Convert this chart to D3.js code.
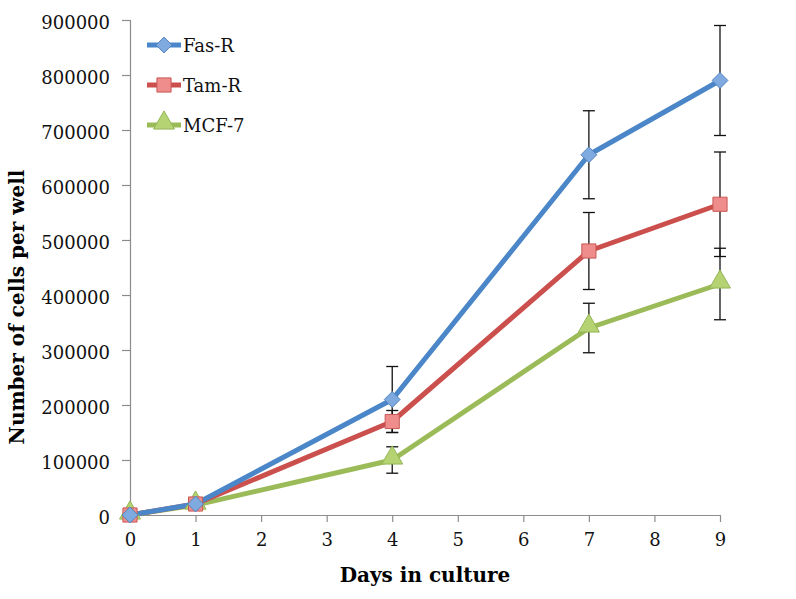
<!DOCTYPE html>
<html><head><meta charset="utf-8">
<script src="https://cdn.jsdelivr.net/npm/d3@7"></script>
<style>body{margin:0;background:#fff}</style>
</head><body><svg id="c" width="796" height="599"></svg>
<script>
const days = [0, 1, 4, 7, 9];
const seriesNames = ["Fas-R", "Tam-R", "MCF-7"];
const fasR = [0, 20000, 210000, 655000, 790000];
const tamR = [0, 20000, 170000, 480000, 565000];
const mcf7 = [0, 18000, 100000, 340000, 420000];
const fasRErr = [0, 0, 60000, 80000, 100000];
const tamRErr = [0, 0, 20000, 70000, 95000];
const mcf7Err = [0, 0, 24000, 45000, 65000];
const xTicks = [0,1,2,3,4,5,6,7,8,9];
const yTicks = [0,100000,200000,300000,400000,500000,600000,700000,800000,900000];

const colors = ["#4A86C8", "#CB504D", "#9BBB59"];
const fills = ["#7FAADF", "#EE8D8B", "#B6D374"];
const strokes = ["#5585C0", "#C85855", "#93B556"];
const shapes = [d3.symbolDiamond2, d3.symbolSquare, d3.symbolTriangle];
const sizes = [160, 200, 190];

const svg = d3.select("#c");
const m = {l:130, r:720, t:20, b:515};
const x = d3.scaleLinear().domain([0,9]).range([m.l, m.r]);
const y = d3.scaleLinear().domain([0,900000]).range([m.b, m.t]);
const font = "'DejaVu Serif', serif";

const ya = svg.append("g").attr("transform", `translate(${m.l},0)`)
  .call(d3.axisLeft(y).tickValues(yTicks).tickFormat(d3.format("d")).tickSize(8).tickPadding(12));
const xa = svg.append("g").attr("transform", `translate(0,${m.b})`)
  .call(d3.axisBottom(x).tickValues(xTicks).tickFormat(d3.format("d")).tickSize(7).tickPadding(11));
[ya, xa].forEach(a => {
  a.selectAll("path,line").attr("stroke", "#8c8c8c").attr("stroke-width", 1.2);
  a.selectAll("text").attr("font-family", font).attr("font-size", 18).attr("fill", "#111");
});
ya.selectAll("text").attr("dy", "0.45em");
xa.select(".domain").attr("d", `M${m.l},0.5H${m.r}`);
ya.select(".domain").attr("d", `M0.5,${m.t}V${m.b}`);

const data = [fasR, tamR, mcf7];
const errs = [fasRErr, tamRErr, mcf7Err];

// error bars
data.forEach((s, i) => {
  const g = svg.append("g");
  s.forEach((v, j) => {
    const e = errs[i][j];
    if (!e) return;
    const cx = x(days[j]);
    g.append("line").attr("x1", cx).attr("x2", cx).attr("y1", y(v+e)).attr("y2", y(v-e))
      .attr("stroke", "#111").attr("stroke-width", 1.3);
    [v+e, v-e].forEach(t => g.append("line").attr("x1", cx-6).attr("x2", cx+6)
      .attr("y1", y(t)).attr("y2", y(t)).attr("stroke", "#111").attr("stroke-width", 1.3));
  });
});

// lines and markers, draw in reverse so Fas-R on top
const line = d3.line().x((d, j) => x(days[j])).y(d => y(d));
[2,1,0].forEach(i => {
  svg.append("path").datum(data[i]).attr("d", line).attr("fill", "none")
    .attr("stroke", colors[i]).attr("stroke-width", 5).attr("stroke-linejoin", "round");
});
[2,1,0].forEach(i => {
  svg.append("g").selectAll("path").data(data[i]).join("path")
    .attr("transform", (d, j) => `translate(${x(days[j])},${y(d) + (i===2?-2:0)})`)
    .attr("d", d3.symbol(shapes[i], sizes[i]))
    .attr("fill", fills[i]).attr("stroke", strokes[i]).attr("stroke-width", 1);
});

// legend
const legY = [45, 85, 125];
seriesNames.forEach((n, i) => {
  const g = svg.append("g").attr("transform", `translate(147,${legY[i]})`);
  g.append("line").attr("x1", 0).attr("x2", 34).attr("stroke", colors[i]).attr("stroke-width", 5);
  g.append("path").attr("transform", `translate(17,${i===2?-2:0})`).attr("d", d3.symbol(shapes[i], sizes[i]))
    .attr("fill", fills[i]).attr("stroke", strokes[i]).attr("stroke-width", 1);
  g.append("text").attr("x", 36).attr("y", 6.5).text(n)
    .attr("font-family", font).attr("font-size", 18).attr("fill", "#111");
});

// axis titles
svg.append("text").attr("x", 425).attr("y", 582).attr("text-anchor", "middle")
  .attr("font-family", font).attr("font-weight", "bold").attr("font-size", 20).text("Days in culture");
svg.append("text").attr("transform", "translate(24,307) rotate(-90)").attr("text-anchor", "middle")
  .attr("font-family", font).attr("font-weight", "bold").attr("font-size", 20).text("Number of cells per well");
</script></body></html>
